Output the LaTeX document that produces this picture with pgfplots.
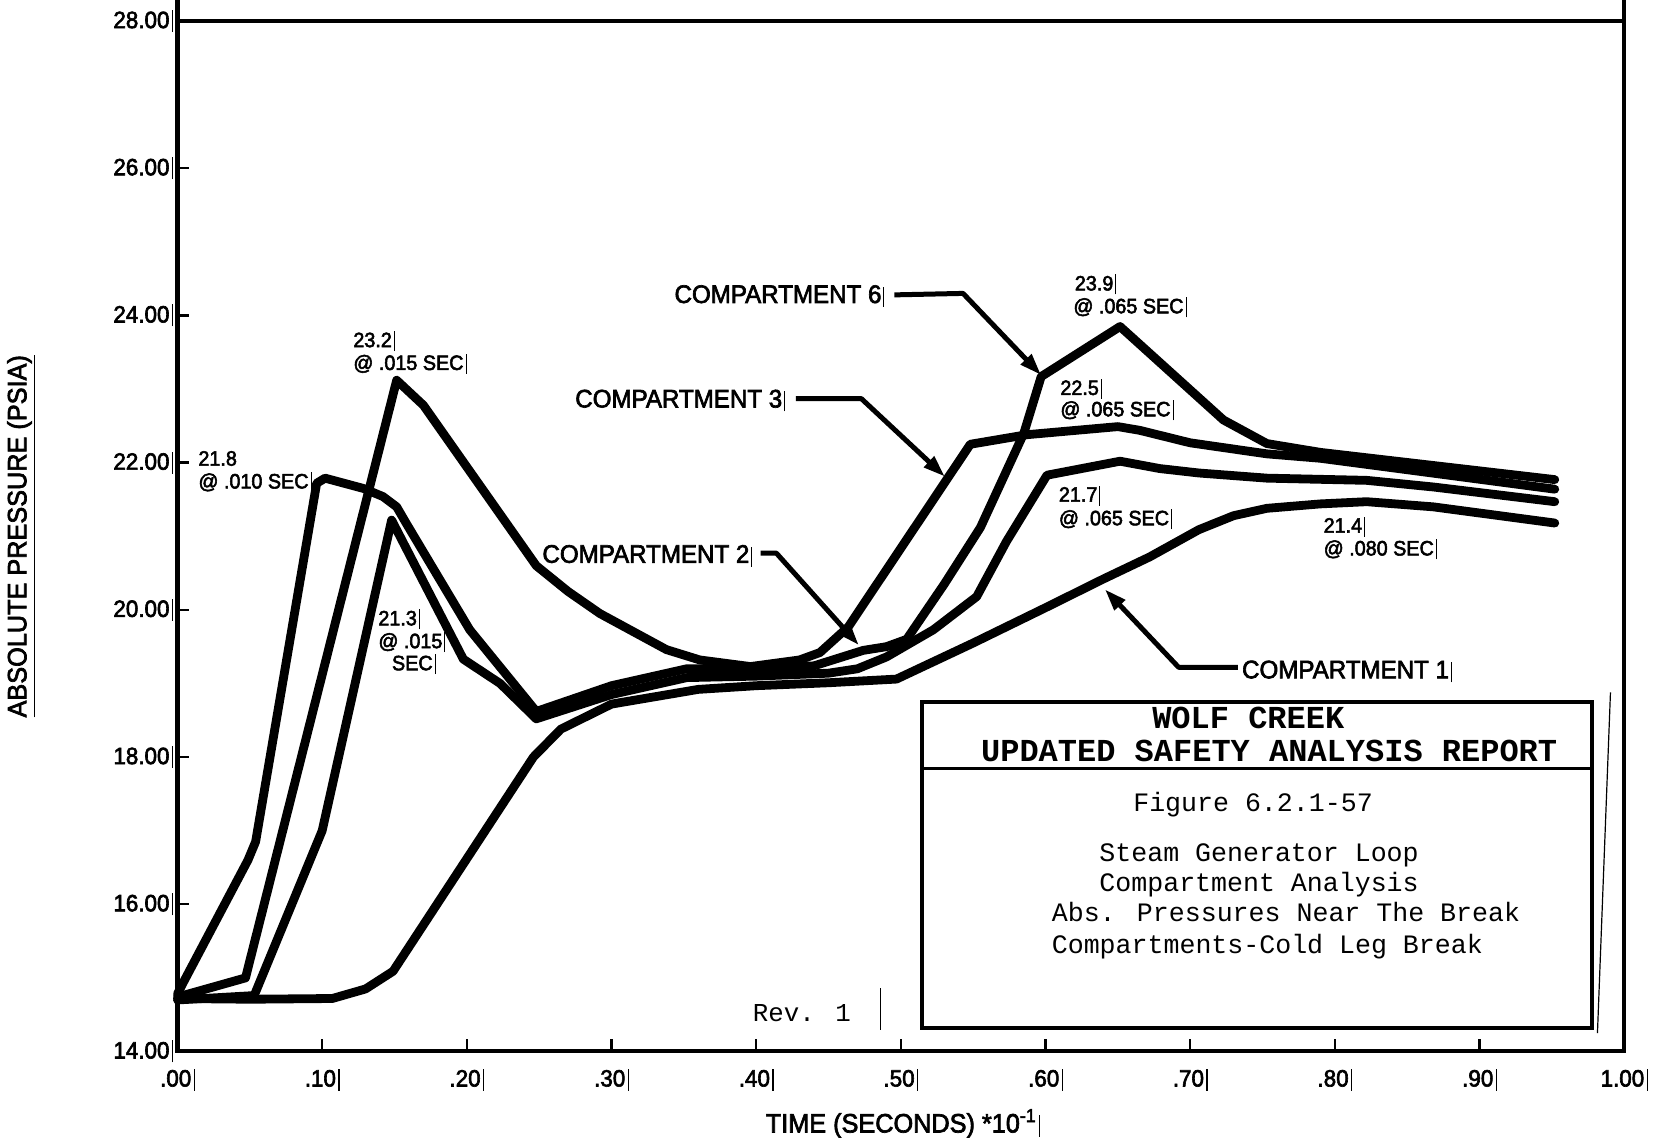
\documentclass[border=0pt]{standalone}
\usepackage{fontspec}
\usepackage{pgfplots}
\pgfplotsset{compat=1.18}
\usetikzlibrary{arrows.meta}
\newfontfamily\cf[FakeStretch=0.95,RawFeature={embolden=2.6}]{Liberation Sans}
\newfontfamily\mono{Liberation Mono}
\newcommand\tbar{\hspace{1.2pt}\rule[-2pt]{0.6pt}{11pt}}
\newcommand\abar{\hspace{1pt}\rule[-2pt]{0.5pt}{10pt}}
\begin{document}
\begin{tikzpicture}
\begin{axis}[
  at={(0,0)}, anchor=south west,
  scale only axis, width=723.35pt, height=515.2pt,
  xmin=0, xmax=1, ymin=14, ymax=28,
  clip=false,
  axis line style={line width=2pt},
  tick pos=left, tick align=inside,
  major tick length=6pt,
  tick style={black, line width=1.2pt},
  xtick={0,0.1,0.2,0.3,0.4,0.5,0.6,0.7,0.8,0.9,1.0},
  xticklabels={.00\tbar,.10\tbar,.20\tbar,.30\tbar,.40\tbar,.50\tbar,.60\tbar,.70\tbar,.80\tbar,.90\tbar,1.00\tbar},
  ytick={14,16,18,20,22,24,26,28},
  yticklabels={14.00\tbar,16.00\tbar,18.00\tbar,20.00\tbar,22.00\tbar,24.00\tbar,26.00\tbar,28.00\tbar},
  ticklabel style={font=\cf\fontsize{11.8}{12}\selectfont, inner sep=1pt},
  xticklabel style={yshift=-7.3pt},
  yticklabel style={xshift=-1pt},
  curve/.style={black, line width=4.4pt, line join=round, line cap=round, mark=none},
]
% Compartment 1 (slow rise)
\addplot[curve] coordinates {(0,14.72) (0.05,14.71) (0.107,14.72) (0.13,14.85) (0.149,15.09) (0.246,18.0) (0.265,18.38) (0.30,18.72) (0.36,18.92) (0.40,18.97) (0.45,19.01) (0.497,19.06) (0.55,19.55) (0.60,20.03) (0.64,20.42) (0.672,20.72) (0.706,21.09) (0.73,21.28) (0.753,21.38) (0.79,21.44) (0.822,21.47) (0.868,21.40) (0.952,21.18)};
% Compartment 3 (23.2 early peak, 22.5 later)
\addplot[curve] coordinates {(0,14.74) (0.047,15.0) (0.1515,23.12) (0.17,22.78) (0.248,20.6) (0.27,20.25) (0.292,19.95) (0.338,19.46) (0.361,19.32) (0.396,19.23) (0.43,19.32) (0.444,19.42) (0.4637,19.77) (0.548,22.25) (0.587,22.38) (0.65,22.49) (0.665,22.44) (0.70,22.27) (0.753,22.12) (0.79,22.06) (0.952,21.64)};
% Compartment 6 (21.8 early peak, 23.9 later)
\addplot[curve] coordinates {(0,14.78) (0.003,14.9) (0.0487,16.6) (0.054,16.85) (0.0962,21.72) (0.102,21.79) (0.1285,21.65) (0.142,21.54) (0.1515,21.40) (0.158,21.18) (0.202,19.73) (0.248,18.62) (0.30,18.97) (0.352,19.2) (0.40,19.2) (0.44,19.24) (0.474,19.45) (0.49,19.5) (0.504,19.6) (0.53,20.35) (0.555,21.12) (0.585,22.40) (0.597,23.17) (0.6515,23.85) (0.723,22.58) (0.753,22.26) (0.79,22.14) (0.952,21.77)};
% Compartment 2 (21.3 early peak, 21.7 later)
\addplot[curve] coordinates {(0,14.7) (0.053,14.76) (0.100,17.0) (0.148,21.22) (0.1976,19.33) (0.223,19.0) (0.248,18.52) (0.30,18.85) (0.352,19.08) (0.40,19.1) (0.45,19.14) (0.47,19.2) (0.49,19.36) (0.5225,19.73) (0.5524,20.18) (0.573,20.93) (0.601,21.83) (0.6515,22.02) (0.679,21.92) (0.706,21.86) (0.753,21.79) (0.822,21.76) (0.868,21.67) (0.952,21.47)};

% heavier frame, with the vertical lines running up past the top edge
\draw[line width=2.6pt] (axis cs:0,14) -- (axis cs:0,28) -- ++(0pt,10.5pt);
\draw[line width=2.1pt] (axis cs:0,28) -- (axis cs:1,28);
\draw[line width=1.9pt] (axis cs:1,14) -- (axis cs:1,28) -- ++(0pt,10.5pt);
\draw[line width=1.9pt] (axis cs:0,14) -- (axis cs:1,14);

% axis titles
\node[rotate=90, anchor=center, font=\cf\fontsize{13.3}{14}\selectfont] at ([xshift=-78pt]axis cs:0,21.0) {\underline{ABSOLUTE PRESSURE (PSIA)}};
\node[anchor=base, font=\cf\fontsize{13.3}{14}\selectfont] at ([yshift=-40.5pt]axis cs:0.5015,14) {TIME (SECONDS) *10\textsuperscript{-1}\tbar};

% peak annotations
\begin{scope}[every node/.style={anchor=base west, inner sep=0pt, font=\cf\fontsize{10.4}{11}\selectfont}]
\node at (axis cs:0.0142,21.96) {21.8};
\node at (axis cs:0.0142,21.65) {@ .010 SEC\abar};
\node at (axis cs:0.1213,23.57) {23.2\abar};
\node at (axis cs:0.1213,23.26) {@ .015 SEC\abar};
\node at (axis cs:0.1386,19.79) {21.3\abar};
\node at (axis cs:0.1386,19.48) {@ .015\abar};
\node at (axis cs:0.148,19.18) {SEC\abar};
\node at (axis cs:0.620,24.34) {23.9\abar};
\node at (axis cs:0.619,24.03) {@ .065 SEC\abar};
\node at (axis cs:0.610,22.92) {22.5\abar};
\node at (axis cs:0.610,22.63) {@ .065 SEC\abar};
\node at (axis cs:0.609,21.47) {21.7\abar};
\node at (axis cs:0.609,21.15) {@ .065 SEC\abar};
\node at (axis cs:0.792,21.05) {21.4\abar};
\node at (axis cs:0.792,20.74) {@ .080 SEC\abar};
\end{scope}

% compartment labels
\begin{scope}[every node/.style={anchor=base west, inner sep=0pt, font=\cf\fontsize{12.7}{13}\selectfont}]
\node at (axis cs:0.3433,24.17) {COMPARTMENT 6\abar};
\node at (axis cs:0.2747,22.75) {COMPARTMENT 3\abar};
\node at (axis cs:0.2520,20.64) {COMPARTMENT 2\abar};
\node at (axis cs:0.7356,19.07) {COMPARTMENT 1\abar};
\end{scope}

% label arrows
\begin{scope}[line width=2.5pt, line join=round, -{Triangle[length=11pt,width=7pt]}]
\draw (axis cs:0.4955,24.28) -- (axis cs:0.543,24.30) -- (axis cs:0.597,23.19);
\draw (axis cs:0.4275,22.87) -- (axis cs:0.4727,22.87) -- (axis cs:0.5305,21.81);
\draw (axis cs:0.4030,20.77) -- (axis cs:0.414,20.77) -- (axis cs:0.471,19.52);
\draw (axis cs:0.733,19.22) -- (axis cs:0.692,19.22) -- (axis cs:0.641,20.28);
\end{scope}

% title block
\draw[line width=2pt, fill=white] (axis cs:0.5143,14.32) rectangle (axis cs:0.978,18.75);
\draw[line width=1.5pt] (axis cs:0.5143,17.85) -- (axis cs:0.978,17.85);
\draw[line width=0.6pt] (axis cs:0.9905,18.88) -- (axis cs:0.9815,14.25);
\begin{scope}[every node/.style={anchor=base west, inner sep=0pt}]
\node[font=\mono\bfseries\fontsize{16}{16}\selectfont] at (axis cs:0.6735,18.39) {WOLF CREEK};
\node[font=\mono\bfseries\fontsize{16}{16}\selectfont] at (axis cs:0.5552,17.94) {UPDATED SAFETY ANALYSIS REPORT};
\node[font=\mono\fontsize{13.3}{14}\selectfont] at (axis cs:0.6604,17.26) {Figure 6.2.1-57};
\node[font=\mono\fontsize{13.3}{14}\selectfont] at (axis cs:0.637,16.58) {Steam Generator Loop};
\node[font=\mono\fontsize{13.3}{14}\selectfont] at (axis cs:0.637,16.17) {Compartment Analysis};
\node[font=\mono\fontsize{13.3}{14}\selectfont] at (axis cs:0.6041,15.76) {Abs. Pressures Near The Break};
\node[font=\mono\fontsize{13.3}{14}\selectfont] at (axis cs:0.6041,15.33) {Compartments-Cold Leg Break};
\node[font=\mono\fontsize{12.9}{14}\selectfont] at (axis cs:0.3974,14.41) {Rev. 1};
\end{scope}
\draw[line width=0.8pt] (axis cs:0.4858,14.86) -- (axis cs:0.4858,14.29);
\end{axis}
\pgfresetboundingbox
\path[use as bounding box] (-88.75pt,-43.25pt) rectangle (739.75pt,525.75pt);
\end{tikzpicture}
\end{document}
